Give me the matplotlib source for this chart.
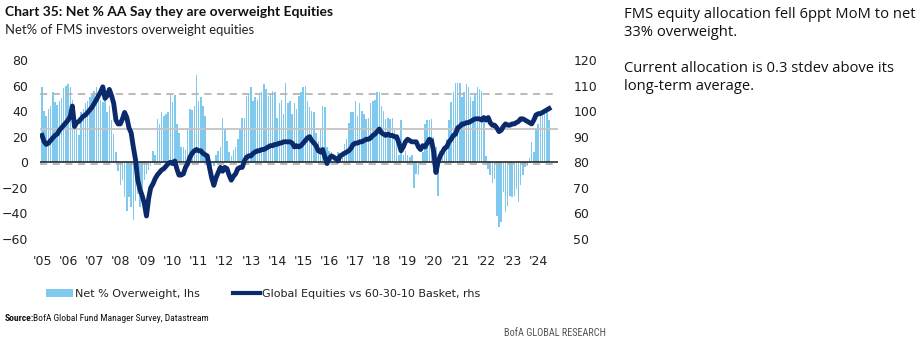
import matplotlib
matplotlib.use("Agg")
import matplotlib.pyplot as plt
from matplotlib.patches import Patch
from matplotlib.lines import Line2D
import numpy as np
import pandas as pd

# Net % of FMS investors overweight equities (monthly, lhs)
net_overweight = [
    59, 40, 36, 42, 44, 55, 47, 45, 48, 50, 58, 60,          # 2005
    61, 59, 49, 33, 26, 21, 39, 42, 46, 48, 51, 53,          # 2006
    56, 59, 55, 49, 47, 51, 39, 44, 33, 22, 8, -7,           # 2007
    -18, -14, -27, -38, -27, -35, -45, -30, -25, -35, -22, -14,  # 2008
    -9, -6, -3, 9, 6, 34, 30, 39, 36, 38, 39, 53,            # 2009
    47, 53, 30, 23, 12, 12, 10, 27, 42, 41, 44, 68,          # 2010
    48, 51, 44, 36, 6, 4, -4, -3, 6, 9, 12, 35,              # 2011
    26, 17, 8, 5, 10, 12, 18, 25, 35, 35, 52, 53,            # 2012
    59, 48, 51, 49, 53, 55, 61, 57, 52, 53, 56, 55,          # 2013
    35, 46, 49, 38, 62, 46, 48, 38, 46, 42, 52, 55,          # 2014
    59, 60, 48, 43, 40, 39, 23, 17, 25, 44, 43, 12,          # 2015
    9, 8, 6, 4, 8, 6, 9, 14, 18, 31, 39, 39,                 # 2016
    48, 36, 46, 40, 38, 34, 35, 46, 48, 49, 55, 55,          # 2017
    44, 40, 34, 35, 34, 35, 25, 17, 6, 33, 6, 9,             # 2018
    6, 4, 6, -20, -9, -10, -2, 8, 30, 33, 33, 34,            # 2019
    20, 12, -26, 9, 10, 13, 18, 33, 47, 55, 62, 62,          # 2020
    62, 51, 55, 61, 59, 51, 48, 53, 59, 57, 56, 36,          # 2021
    5, -5, -10, -16, -13, -42, -51, -47, -23, -39, -34, -26, # 2022
    -27, -26, -21, -31, -18, -10, -4, -3, 3, 16, 8, 27,      # 2023
    30, 38, 36, 39, 39, 33,                                  # 2024
]

# Global equities vs 60-30-10 basket, relative index (monthly, rhs)
equities_vs_basket = [
    90.5, 88, 87, 87.5, 88.5, 89.5, 90.5, 91, 92.5, 93.5, 94.5, 95.5,       # 2005
    96.5, 98, 102, 94, 95.5, 96, 97, 98, 98.5, 99.5, 100.5, 101.5,         # 2006
    103, 104.5, 106, 107.5, 109.5, 105, 106, 108.5, 106, 103, 96.5, 95,    # 2007
    95, 97, 99.5, 97.5, 93.5, 91.5, 86, 81, 73, 69.5, 67, 64,              # 2008
    59, 66, 70, 71.5, 73.5, 75, 76, 77, 77.5, 78.5, 79.5, 80,              # 2009
    79.5, 80.5, 77.5, 75, 75, 75.5, 78, 79.5, 82, 83.5, 84.5, 85,          # 2010
    84.5, 84.5, 83.5, 83, 82.5, 78, 74, 71, 74, 76, 78, 76.5,              # 2011
    78, 77.5, 75, 73, 74.5, 75.5, 77.5, 78, 78, 80.5, 82, 82.5,            # 2012
    82.5, 83.5, 84, 84.5, 84.5, 85, 85, 85.5, 86, 86.5, 86.5, 87,          # 2013
    87, 87.5, 87.5, 88, 88, 88, 88, 87.5, 86, 86.5, 86, 86.5,              # 2014
    87.5, 88.5, 89.5, 90, 88.5, 87.5, 86.5, 84.5, 84, 85, 82, 79.5,        # 2015
    81.5, 82.5, 82, 81.5, 80.5, 82.5, 83, 83.5, 84, 84.5, 85.5, 87,        # 2016
    87.5, 87.5, 88, 88, 88.5, 89, 89, 89.5, 90.5, 91, 92, 93,              # 2017
    91.5, 91, 90.5, 91, 90.5, 90.5, 90, 90, 87.5, 84.5, 86, 88,            # 2018
    89, 88.5, 88, 88, 88, 86, 85, 86.5, 86, 87.5, 89, 88.5,                # 2019
    84, 76, 80, 82.5, 84, 85.5, 86, 88, 89, 90.5, 91, 93.5,                # 2020
    94, 95, 95, 95.5, 95.5, 96, 96.5, 97, 97, 97, 96.5, 97.5,              # 2021
    96.5, 97.5, 95.5, 94.5, 94.5, 93.5, 92, 92.5, 94, 95, 94.5, 94.5,      # 2022
    95, 95, 95.5, 96, 97, 97, 96.5, 96, 95.5, 95, 96.5, 98.5,              # 2023
    99, 99, 99.5, 100, 100.5, 101,                                         # 2024
]

year_ticks = list(range(2005, 2025))
year_labels = ["'%02d" % (y % 100) for y in year_ticks]

months = pd.date_range("2005-01-01", periods=len(net_overweight), freq="MS")
line_months = pd.date_range("2005-01-01", periods=len(equities_vs_basket), freq="MS")

BAR_BLUE = "#7fc9ee"
NAVY = "#0b2a6b"
TXT = "#222222"
NARROW = ["Roboto Condensed", "Lato"]

fig = plt.figure(figsize=(9.2, 3.45), dpi=100)
ax = fig.add_axes([40 / 920, 1 - 239 / 345, 518 / 920, 179 / 345])
ax2 = ax.twinx()

ax.bar(months, net_overweight, width=21, color=BAR_BLUE, linewidth=0, zorder=2)

vals = np.array(net_overweight, dtype=float)
mean, sd = vals.mean(), vals.std()
ax.axhline(mean, color="#c4c4c4", lw=1.3, zorder=3)
ax.axhline(mean + sd, color="#b5b5b5", lw=1.3, ls=(0, (4, 3)), zorder=3)
ax.axhline(mean - sd, color="#b5b5b5", lw=1.3, ls=(0, (4, 3)), zorder=3)
ax.axhline(0, color="#1a1a1a", lw=1.1, zorder=4)

ax2.plot(line_months, equities_vs_basket, color=NAVY, lw=3.5, solid_joinstyle="round", zorder=5)

ax.set_ylim(-60, 80)
ax2.set_ylim(50, 120)
ax.set_yticks(range(-60, 81, 20))
ax2.set_yticks(range(50, 121, 10))
ax.set_xlim(pd.Timestamp("2004-12-04"), pd.Timestamp("2024-10-04"))
ax.set_xticks([pd.Timestamp(f"{y}-01-01") for y in year_ticks])
ax.set_xticklabels(year_labels)

for a in (ax, ax2):
    for s in a.spines.values():
        s.set_visible(False)
    a.tick_params(length=0, labelsize=9, colors=TXT)
ax.tick_params(axis="y", pad=8.5)
ax2.tick_params(axis="y", pad=11)
ax.tick_params(axis="x", pad=11.5)

# Titles
fig.text(5 / 920, 1 - 16 / 345, "Chart 35: Net % AA Say they are overweight Equities",
         family=["Lato"], fontweight="bold", fontsize=10.0,
         color="#111111", va="baseline")
fig.text(5 / 920, 1 - 34 / 345, "Net% of FMS investors overweight equities",
         family=["Lato"], fontsize=9.4, color=TXT, va="baseline")

# Commentary
comment = [("FMS equity allocation fell 6ppt MoM to net", 18),
           ("33% overweight.", 36),
           ("Current allocation is 0.3 stdev above its", 72),
           ("long-term average.", 90)]
for s, yb in comment:
    fig.text(624 / 920, 1 - yb / 345, s, family=["Open Sans"], fontsize=10.6,
             color="#111111", va="baseline")

# Legend
handles = [Patch(facecolor=BAR_BLUE, edgecolor="none"),
           Line2D([0], [0], color=NAVY, lw=3)]
fig.legend(handles, ["Net % Overweight, lhs", "Global Equities vs 60-30-10 Basket, rhs"],
           loc="center left", bbox_to_anchor=(36 / 920, 1 - 294 / 345), ncol=2,
           frameon=False, fontsize=8, handlelength=2.4, handleheight=0.7,
           handletextpad=0.2, columnspacing=3.0, labelcolor=TXT)

# Footer
fig.text(5 / 920, 1 - 321 / 345, "Source:", family=NARROW,
         fontweight="bold", fontsize=6.8, color="#111111", va="baseline")
fig.text(33 / 920, 1 - 321 / 345, "BofA Global Fund Manager Survey, Datastream",
         family=NARROW, fontsize=6.8, color="#111111", va="baseline")
fig.text(606 / 920, 1 - 336 / 345, "BofA GLOBAL RESEARCH",
         family=NARROW, fontsize=7.4, color="#555555",
         ha="right", va="baseline")

fig.savefig("out.png", dpi=100)
